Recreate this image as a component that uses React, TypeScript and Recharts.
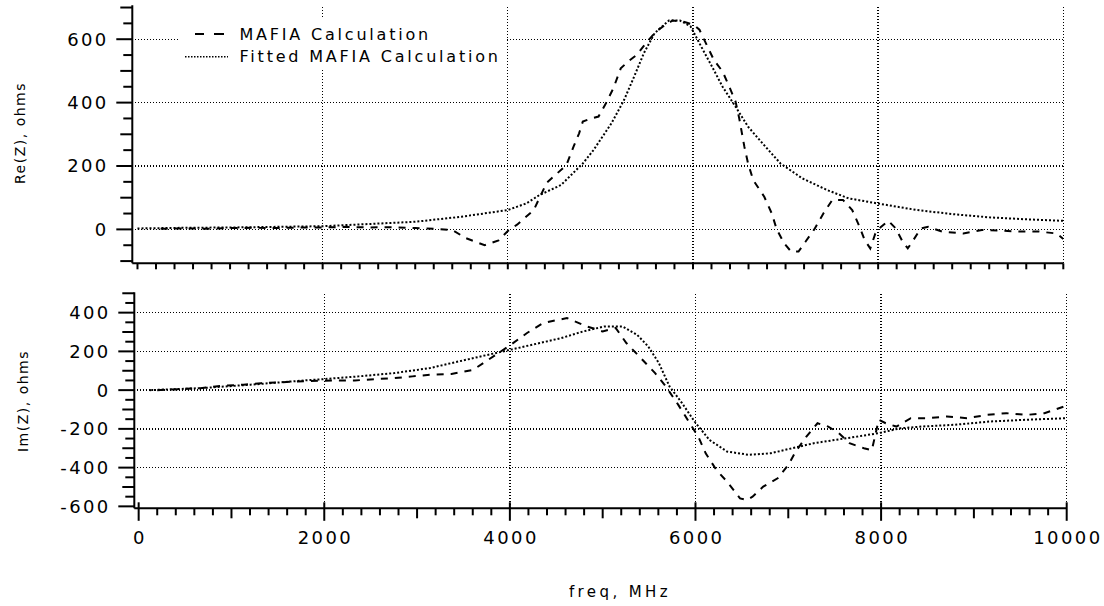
import React from 'react';
import { LineChart, Line, XAxis, YAxis, ReferenceLine, Label, Legend } from 'recharts';

// ---- Data ----
const reMafiaFreq = [250, 500, 750, 1000, 1250, 1500, 1750, 2000, 2250, 2500, 2750, 3000, 3200, 3400, 3550, 3750, 3900, 4000, 4100, 4280, 4420, 4633, 4710, 4770, 4810, 4900, 4980, 5060, 5140, 5220, 5300, 5390, 5490, 5600, 5700, 5780, 5900, 6010, 6070, 6130, 6225, 6320, 6400, 6460, 6500, 6555, 6595, 6650, 6770, 6850, 6905, 6985, 7060, 7140, 7215, 7310, 7410, 7505, 7620, 7720, 7800, 7855, 7915, 7970, 8030, 8110, 8190, 8265, 8320, 8380, 8460, 8540, 8690, 8920, 9120, 9310, 9550, 9740, 9930, 10000];
const reMafia = [2, 3, 2, 4, 5, 4, 6, 6, 8, 6, 7, 4, 2, -2, -28, -50, -35, -5, 15, 61, 147, 203, 261, 303, 340, 350, 356, 398, 445, 508, 530, 550, 587, 624, 645, 659, 655, 645, 630, 593, 535, 498, 445, 403, 350, 261, 208, 156, 103, 51, 0, -44, -70, -70, -39, 0, 51, 93, 93, 61, 8, -34, -60, -13, 8, 27, 3, -39, -60, -34, 3, 8, -7, -13, -2, -4, -7, -7, -13, -30];

const reFitFreq = [0, 500, 1000, 1500, 2000, 2500, 3000, 3500, 4000, 4200, 4340, 4575, 4810, 4925, 5120, 5255, 5350, 5470, 5585, 5740, 5860, 5975, 6070, 6205, 6320, 6460, 6595, 6750, 6945, 7180, 7450, 7680, 7990, 8420, 8810, 9200, 9585, 10000];
const reFit = [3, 5, 6, 8, 10, 17, 24, 40, 61, 82, 108, 140, 208, 250, 335, 408, 472, 556, 619, 659, 659, 640, 587, 514, 450, 387, 324, 272, 208, 161, 124, 98, 82, 61, 48, 38, 32, 27];

const imMafiaFreq = [200, 665, 900, 1130, 1320, 1515, 1710, 1940, 2135, 2330, 2560, 2755, 2950, 3140, 3370, 3605, 4010, 4185, 4360, 4615, 4830, 5000, 5140, 5255, 5410, 5565, 5680, 5815, 5915, 6030, 6110, 6225, 6340, 6480, 6555, 6615, 6730, 6885, 7000, 7080, 7195, 7315, 7430, 7545, 7660, 7815, 7900, 7975, 8050, 8165, 8320, 8500, 8710, 8925, 9140, 9350, 9565, 9760, 9975];
const imMafia = [0, 10, 22, 28, 36, 40, 45, 48, 50, 50, 57, 62, 71, 79, 83, 105, 234, 295, 347, 372, 329, 303, 321, 243, 166, 88, 19, -76, -153, -240, -326, -412, -472, -559, -567, -550, -498, -455, -386, -317, -240, -171, -188, -222, -274, -300, -310, -153, -171, -188, -145, -145, -136, -145, -128, -119, -128, -119, -84];

const imFitFreq = [120, 665, 1205, 1785, 2000, 2370, 2755, 3140, 3530, 4010, 4320, 4555, 4790, 5020, 5215, 5370, 5490, 5605, 5720, 5855, 5990, 6150, 6340, 6575, 6810, 7040, 7275, 7505, 7740, 7975, 8205, 8440, 8790, 9175, 9565, 9990];
const imFit = [0, 10, 28, 50, 57, 71, 88, 114, 157, 209, 243, 269, 303, 329, 329, 286, 226, 140, 19, -67, -162, -257, -317, -334, -326, -300, -274, -257, -240, -222, -197, -188, -179, -162, -153, -145];

// ---- Ticks / labels ----
const xTicks = Array.from({ length: 51 }, (_, i) => i * 200);
const xGrid = [2000, 4000, 6000, 8000, 10000];
const reYTicks = [-100, -50, 0, 50, 100, 150, 200, 250, 300, 350, 400, 450, 500, 550, 600, 650, 700];
const reYGrid = [0, 200, 400, 600];
const imYTicks = [-600, -550, -500, -450, -400, -350, -300, -250, -200, -150, -100, -50, 0, 50, 100, 150, 200, 250, 300, 350, 400, 450, 500];
const imYGrid = [-400, -200, 0, 200, 400];

const legendLabels = ['MAFIA Calculation', 'Fitted MAFIA Calculation'];
const reLabel = 'Re(Z), ohms';
const imLabel = 'Im(Z), ohms';
const xLabel = 'freq, MHz';

const zip = (f: number[], v: number[]) => f.map((x, i) => ({ f: x, v: v[i] }));
const reMafiaData = zip(reMafiaFreq, reMafia);
const reFitData = zip(reFitFreq, reFit);
const imMafiaData = zip(imMafiaFreq, imMafia);
const imFitData = zip(imFitFreq, imFit);

const FONT = '"DejaVu Sans", sans-serif';
const DASH = '7 7';
const DOT = '2 2';
const GRID = '1 2';

const XTickTop = (props: any) => {
  const { x, y } = props;
  return <line x1={x} x2={x} y1={y} y2={y + 6} stroke="#000" strokeWidth={2} />;
};

const XTickBottom = (props: any) => {
  const { x, y, payload } = props;
  const v = payload.value;
  const major = v % 2000 === 0;
  const medium = !major && v % 1000 === 0;
  const len = major ? 12.5 : medium ? 10 : 7;
  return (
    <g>
      <line x1={x} x2={x} y1={major ? y - 6 : y} y2={y + len} stroke="#000" strokeWidth={2} />
      {major && (
        <text x={x + 1.2} y={y + 36} textAnchor="middle" fontFamily={FONT} fontSize={18} letterSpacing={2.4} fill="#000">
          {v}
        </text>
      )}
    </g>
  );
};

const YTick = (props: any) => {
  const { x, y, payload } = props;
  const v = payload.value;
  const major = v % 200 === 0;
  const medium = !major && v % 100 === 0;
  const len = major ? 16 : medium ? 12 : 9;
  return (
    <g>
      <line x1={x - len} x2={x} y1={y} y2={y} stroke="#000" strokeWidth={2} />
      {major && (
        <text x={x - 26 + 2.4} y={y} dy="0.36em" textAnchor="end" fontFamily={FONT} fontSize={18} letterSpacing={2.4} fill="#000">
          {v}
        </text>
      )}
    </g>
  );
};

const renderLegend = () => (
  <svg width={328} height={51} style={{ display: 'block', background: '#fff' }}>
    <line x1={16} x2={25} y1={16} y2={16} stroke="#000" strokeWidth={2} />
    <line x1={35} x2={45} y1={16} y2={16} stroke="#000" strokeWidth={2} />
    <text x={60.5} y={16} dy="0.36em" fontFamily={FONT} fontSize={16} letterSpacing={2.8} fill="#000">{legendLabels[0]}</text>
    <line x1={6} x2={49} y1={38.7} y2={38.7} stroke="#000" strokeWidth={1.6} strokeDasharray="1.5 1.5" />
    <text x={60.5} y={38.7} dy="0.36em" fontFamily={FONT} fontSize={16} letterSpacing={2.8} fill="#000">{legendLabels[1]}</text>
  </svg>
);

export default function App() {
  return (
    <div style={{ position: 'absolute', left: 0, top: 0, width: 1104, height: 606, background: '#fff' }}>
      <div style={{ position: 'absolute', left: 0, top: 0 }}>
        <LineChart width={1104} height={290} margin={{ top: 5.3, right: 40.7, bottom: 6.7, left: 0 }}>
          <XAxis dataKey="f" type="number" domain={[-56, 10000]} ticks={xTicks} interval={0} allowDataOverflow
            tick={<XTickTop />} tickLine={false} tickSize={0} tickMargin={0} height={20}
            axisLine={{ stroke: '#000', strokeWidth: 2 }} />
          <YAxis type="number" domain={[-107, 707]} ticks={reYTicks} interval={0} allowDataOverflow width={132.3}
            tick={<YTick />} tickLine={false} tickSize={0} tickMargin={0}
            axisLine={{ stroke: '#000', strokeWidth: 2 }}>
            <Label content={() => (
              <text x={20} y={133} transform="rotate(-90, 20, 133)" textAnchor="middle" dominantBaseline="central"
                fontFamily={FONT} fontSize={14} letterSpacing={1.5} fill="#000">{reLabel}</text>
            )} />
          </YAxis>
          {reYGrid.map((v) => (
            <ReferenceLine key={'ry' + v} y={v} stroke="#000" strokeWidth={1.3} strokeDasharray={GRID} shapeRendering="crispEdges" />
          ))}
          {xGrid.map((v) => (
            <ReferenceLine key={'rx' + v} x={v} stroke="#000" strokeWidth={1.3} strokeDasharray={GRID} shapeRendering="crispEdges" />
          ))}
          <Line data={reFitData} dataKey="v" type="linear" stroke="#000" strokeWidth={2} strokeDasharray={DOT}
            dot={false} activeDot={false} isAnimationActive={false} name={legendLabels[1]} />
          <Line data={reMafiaData} dataKey="v" type="linear" stroke="#000" strokeWidth={2} strokeDasharray={DASH}
            dot={false} activeDot={false} isAnimationActive={false} name={legendLabels[0]} />
          <Legend content={renderLegend} layout="vertical" verticalAlign="middle" align="center"
            wrapperStyle={{ position: 'absolute', left: 179, top: 18, width: 328, height: 51, background: '#fff' }} />
        </LineChart>
      </div>
      <div style={{ position: 'absolute', left: 0, top: 280 }}>
        <LineChart width={1104} height={326} margin={{ top: 12.3, right: 37.3, bottom: 37.7, left: 0 }}>
          <XAxis dataKey="f" type="number" domain={[-47, 10000]} ticks={xTicks} interval={0} allowDataOverflow
            tick={<XTickBottom />} tickLine={false} tickSize={0} tickMargin={0} height={60}
            axisLine={{ stroke: '#000', strokeWidth: 2 }}>
            <Label content={() => (
              <text x={620} y={316.5} textAnchor="middle" fontFamily={FONT} fontSize={15} letterSpacing={3.4} fill="#000">{xLabel}</text>
            )} />
          </XAxis>
          <YAxis type="number" domain={[-610, 505]} ticks={imYTicks} interval={0} allowDataOverflow width={134.3}
            tick={<YTick />} tickLine={false} tickSize={0} tickMargin={0}
            axisLine={{ stroke: '#000', strokeWidth: 2 }}>
            <Label content={() => (
              <text x={23} y={121} transform="rotate(-90, 23, 121)" textAnchor="middle" dominantBaseline="central"
                fontFamily={FONT} fontSize={14} letterSpacing={1.5} fill="#000">{imLabel}</text>
            )} />
          </YAxis>
          {imYGrid.map((v) => (
            <ReferenceLine key={'iy' + v} y={v} stroke="#000" strokeWidth={1.3} strokeDasharray={GRID} shapeRendering="crispEdges" />
          ))}
          {xGrid.map((v) => (
            <ReferenceLine key={'ix' + v} x={v} stroke="#000" strokeWidth={1.3} strokeDasharray={GRID} shapeRendering="crispEdges" />
          ))}
          <Line data={imFitData} dataKey="v" type="linear" stroke="#000" strokeWidth={2} strokeDasharray={DOT}
            dot={false} activeDot={false} isAnimationActive={false} />
          <Line data={imMafiaData} dataKey="v" type="linear" stroke="#000" strokeWidth={2} strokeDasharray={DASH}
            dot={false} activeDot={false} isAnimationActive={false} />
        </LineChart>
      </div>
    </div>
  );
}
